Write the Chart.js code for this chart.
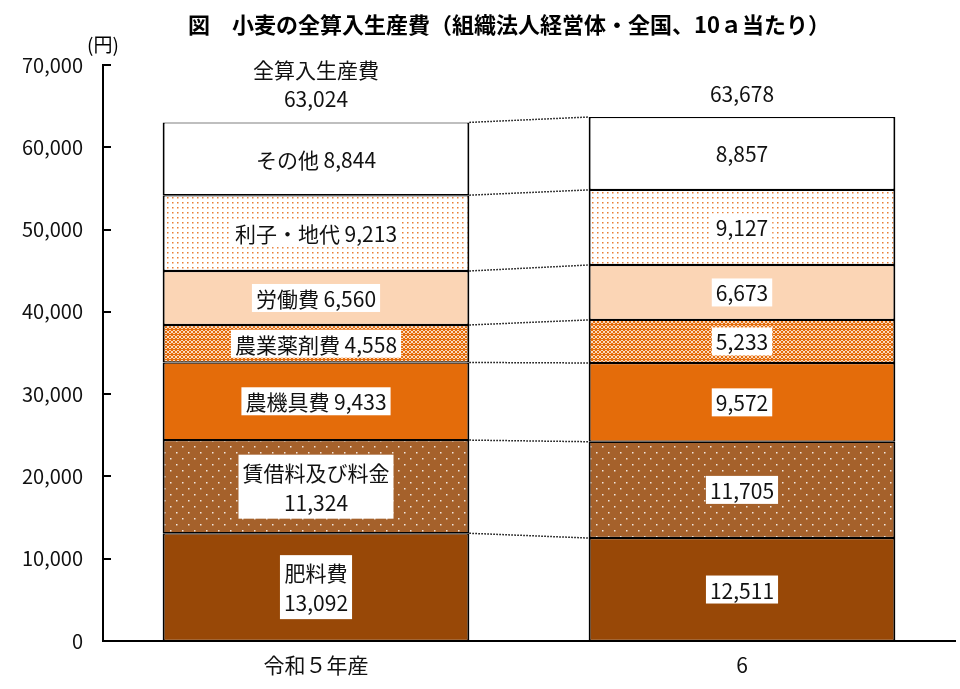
<!DOCTYPE html>
<html lang="ja">
<head>
<meta charset="UTF-8">
<title>小麦の全算入生産費</title>
<style>
    html, body { margin: 0; padding: 0; background: #fff; }
    #wrap { width: 960px; height: 689px; }
</style>
</head>
<body>
<div id="wrap"><canvas id="costChart" width="960" height="689"></canvas></div>

<script src="https://cdn.jsdelivr.net/npm/chart.js@4.4.9/dist/chart.umd.min.js"></script>
<script>
    // data
    const categories = ['令和５年産', '6'];
    const costNames = ['肥料費', '賃借料及び料金', '農機具費', '農業薬剤費', '労働費', '利子・地代', 'その他'];
    const fertilizer = [13092, 12511];
    const rental = [11324, 11705];
    const machinery = [9433, 9572];
    const pesticide = [4558, 5233];
    const labor = [6560, 6673];
    const interestRent = [9213, 9127];
    const other = [8844, 8857];
    const totals = [63024, 63678];
    const totalName = '全算入生産費';
    const twoLineNames = ['肥料費', '賃借料及び料金'];
    const yTickValues = [0, 10000, 20000, 30000, 40000, 50000, 60000, 70000];

    const FONT = "'Noto Sans CJK JP', 'Noto Sans', sans-serif";
    const fmt = v => v.toLocaleString('en-US');

    function makePattern(w, h, bg, dotColor, dots, dotSize) {
        const c = document.createElement('canvas');
        c.width = w;
        c.height = h;
        const g = c.getContext('2d');
        g.fillStyle = bg;
        g.fillRect(0, 0, w, h);
        g.fillStyle = dotColor;
        dots.forEach(([x, y]) => g.fillRect(x, y, dotSize, dotSize));
        return g.createPattern(c, 'repeat');
    }

    const rentalFill = makePattern(12, 12, '#A5612B', 'rgba(255,255,255,0.85)', [[2, 2], [8, 8]], 1.5);
    const pesticideFill = makePattern(4, 5, '#E46C0A', '#FBD9BD',
        [[1, 0], [2, 0], [0, 1], [3, 1], [0, 2], [3, 2], [1, 3], [2, 3]], 1);
    const interestFill = makePattern(5, 5, '#FFFFFF', '#EA7F35', [[2, 2]], 1.5);

    const seriesValues = [fertilizer, rental, machinery, pesticide, labor, interestRent, other];
    const fills = ['#984807', rentalFill, '#E46C0A', pesticideFill, '#FBD5B5', interestFill, '#FFFFFF'];

    const datasets = seriesValues.map((vals, i) => ({
        label: costNames[i],
        data: vals,
        backgroundColor: fills[i],
        borderColor: '#000',
        borderWidth: { top: 1.2, bottom: 1.2, left: 2, right: 2 },
        borderSkipped: false,
        barPercentage: 0.72,
        categoryPercentage: 1.0
    }));

    const decorPlugin = {
        id: 'decor',
        afterDraw(chart) {
            const ctx = chart.ctx;
            const area = chart.chartArea;
            const yScale = chart.scales.y;
            ctx.save();

            // title
            ctx.fillStyle = '#000';
            ctx.font = `bold 22px ${FONT}`;
            ctx.textAlign = 'center';
            ctx.textBaseline = 'middle';
            ctx.fillText('図　小麦の全算入生産費（組織法人経営体・全国、10ａ当たり）', 509, 25);

            // unit
            ctx.font = `19px ${FONT}`;
            ctx.fillText('(円)', 103, 45);

            // inside tick marks on y axis
            ctx.strokeStyle = '#000';
            ctx.lineWidth = 2;
            yTickValues.forEach(v => {
                const y = Math.round(yScale.getPixelForValue(v));
                ctx.beginPath();
                ctx.moveTo(area.left, y);
                ctx.lineTo(area.left + 8, y);
                ctx.stroke();
            });

            // dotted connectors between the two bars
            ctx.setLineDash([1.5, 1.5]);
            ctx.lineWidth = 1.5;
            chart.data.datasets.forEach((ds, i) => {
                const meta = chart.getDatasetMeta(i);
                const a = meta.data[0].getProps(['x', 'y', 'width'], true);
                const b = meta.data[1].getProps(['x', 'y', 'width'], true);
                ctx.beginPath();
                ctx.moveTo(a.x + a.width / 2, a.y);
                ctx.lineTo(b.x - b.width / 2, b.y);
                ctx.stroke();
            });
            ctx.setLineDash([]);

            // segment labels in white boxes
            ctx.font = `21px ${FONT}`;
            chart.data.datasets.forEach((ds, i) => {
                const meta = chart.getDatasetMeta(i);
                meta.data.forEach((el, j) => {
                    const p = el.getProps(['x', 'y', 'base'], true);
                    const val = fmt(ds.data[j]);
                    let lines;
                    if (j === 0) {
                        lines = twoLineNames.includes(ds.label) ? [ds.label, val] : [ds.label + ' ' + val];
                    } else {
                        lines = [val];
                    }
                    const cy = (p.y + p.base) / 2;
                    const lineH = 30;
                    const w = Math.max(...lines.map(t => ctx.measureText(t).width)) + 8;
                    const h = lines.length === 1 ? 28 : 64;
                    ctx.fillStyle = '#FFFFFF';
                    ctx.fillRect(p.x - w / 2, cy - h / 2, w, h);
                    ctx.fillStyle = '#111';
                    lines.forEach((t, k) => {
                        const ly = cy + (k - (lines.length - 1) / 2) * lineH + 1;
                        ctx.fillText(t, p.x, ly);
                    });
                });
            });

            // totals above bars
            const topMeta = chart.getDatasetMeta(chart.data.datasets.length - 1);
            totals.forEach((t, j) => {
                const x = topMeta.data[j].x;
                const y = yScale.getPixelForValue(t);
                ctx.fillStyle = '#111';
                ctx.fillText(fmt(t), x, y - 23);
                if (j === 0) ctx.fillText(totalName, x, y - 52);
            });

            ctx.restore();
        }
    };

    new Chart(document.getElementById('costChart'), {
        type: 'bar',
        data: { labels: categories, datasets },
        options: {
            responsive: false,
            animation: false,
            layout: { padding: { left: 0, right: 5, top: 65, bottom: 0 } },
            plugins: {
                legend: { display: false },
                tooltip: { enabled: false },
                title: { display: false }
            },
            scales: {
                x: {
                    stacked: true,
                    grid: { display: false, drawTicks: false },
                    border: { display: true, color: '#000', width: 2 },
                    ticks: { color: '#111', padding: 11, font: { family: FONT, size: 21 } },
                    afterFit: s => { s.height = 48; }
                },
                y: {
                    stacked: true,
                    min: 0,
                    max: 70000,
                    grid: { display: false, drawTicks: false },
                    border: { display: true, color: '#000', width: 2 },
                    afterBuildTicks: s => { s.ticks = yTickValues.map(v => ({ value: v })); },
                    ticks: {
                        color: '#111',
                        padding: 20,
                        font: { family: FONT, size: 20 },
                        callback: v => fmt(v)
                    },
                    afterFit: s => { s.width = 103; }
                }
            }
        },
        plugins: [decorPlugin]
    });
</script>
</body>
</html>
